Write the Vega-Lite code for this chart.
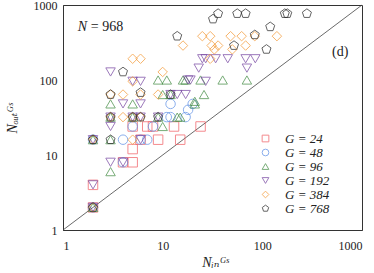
{
  "$schema": "https://vega.github.io/schema/vega-lite/v6.json",
  "width": 299,
  "height": 225,
  "autosize": {"type": "none"},
  "padding": {"left": 63, "top": 5, "right": 12, "bottom": 43},
  "resolve": {"axis": {"x": "independent", "y": "independent"}},
  "config": {
    "font": "Liberation Serif",
    "view": {"stroke": "#333", "strokeWidth": 1},
    "axis": {
      "domainColor": "#333",
      "domainWidth": 1,
      "tickColor": "#333",
      "tickWidth": 1,
      "tickSize": 0,
      "grid": false,
      "labelFont": "Liberation Serif",
      "labelFontSize": 12,
      "labelColor": "#222",
      "titleFont": "Liberation Serif, DejaVu Serif",
      "titleFontSize": 14,
      "titleFontWeight": "normal",
      "titleColor": "#222"
    }
  },
  "datasets": {
    "pts": [
      {"G":24,"x":2,"y":2},{"G":24,"x":2,"y":4},{"G":24,"x":4,"y":8},{"G":24,"x":5,"y":8},{"G":24,"x":5,"y":12},{"G":24,"x":5,"y":24},{"G":24,"x":6,"y":16},{"G":24,"x":7,"y":24},{"G":24,"x":8,"y":24},{"G":24,"x":9,"y":16},{"G":24,"x":13,"y":24},{"G":24,"x":15,"y":16},{"G":24,"x":24,"y":24},
      {"G":48,"x":2,"y":2},{"G":48,"x":2,"y":16},{"G":48,"x":4,"y":16},{"G":48,"x":6,"y":16},{"G":48,"x":7,"y":16},{"G":48,"x":4,"y":8},{"G":48,"x":5,"y":24},{"G":48,"x":8,"y":24},{"G":48,"x":11,"y":32},{"G":48,"x":12,"y":32},{"G":48,"x":12,"y":48},{"G":48,"x":17,"y":32},{"G":48,"x":18,"y":40},{"G":48,"x":20,"y":48},
      {"G":96,"x":2,"y":2},{"G":96,"x":2,"y":16},{"G":96,"x":3,"y":6},{"G":96,"x":3,"y":16},{"G":96,"x":3,"y":32},{"G":96,"x":3,"y":48},{"G":96,"x":5,"y":48},{"G":96,"x":5,"y":32},{"G":96,"x":9,"y":32},{"G":96,"x":10,"y":24},{"G":96,"x":10,"y":64},{"G":96,"x":12,"y":64},{"G":96,"x":9,"y":100},{"G":96,"x":11,"y":100},{"G":96,"x":16,"y":100},{"G":96,"x":17,"y":100},{"G":96,"x":14,"y":32},{"G":96,"x":15,"y":32},{"G":96,"x":21,"y":48},{"G":96,"x":21,"y":52},{"G":96,"x":24,"y":100},{"G":96,"x":26,"y":64},{"G":96,"x":40,"y":100},{"G":96,"x":70,"y":100},
      {"G":192,"x":2,"y":2},{"G":192,"x":2,"y":4},{"G":192,"x":2,"y":16},{"G":192,"x":3,"y":8},{"G":192,"x":3,"y":24},{"G":192,"x":3,"y":32},{"G":192,"x":3,"y":128},{"G":192,"x":4,"y":8},{"G":192,"x":4,"y":48},{"G":192,"x":5,"y":96},{"G":192,"x":6,"y":96},{"G":192,"x":6,"y":48},{"G":192,"x":6,"y":16},{"G":192,"x":6,"y":32},{"G":192,"x":5,"y":32},{"G":192,"x":9,"y":32},{"G":192,"x":12,"y":64},{"G":192,"x":14,"y":64},{"G":192,"x":17,"y":64},{"G":192,"x":18,"y":100},{"G":192,"x":19,"y":100},{"G":192,"x":23,"y":144},{"G":192,"x":25,"y":192},{"G":192,"x":27,"y":192},{"G":192,"x":27,"y":96},{"G":192,"x":34,"y":192},{"G":192,"x":45,"y":192},{"G":192,"x":68,"y":192},{"G":192,"x":70,"y":144},{"G":192,"x":85,"y":192},
      {"G":384,"x":2,"y":2},{"G":384,"x":2,"y":16},{"G":384,"x":3,"y":64},{"G":384,"x":3,"y":32},{"G":384,"x":4,"y":64},{"G":384,"x":4,"y":32},{"G":384,"x":5,"y":16},{"G":384,"x":5,"y":32},{"G":384,"x":5,"y":96},{"G":384,"x":5,"y":192},{"G":384,"x":6,"y":192},{"G":384,"x":6,"y":64},{"G":384,"x":6,"y":32},{"G":384,"x":9,"y":64},{"G":384,"x":10,"y":128},{"G":384,"x":16,"y":288},{"G":384,"x":25,"y":384},{"G":384,"x":30,"y":384},{"G":384,"x":31,"y":288},{"G":384,"x":33,"y":256},{"G":384,"x":36,"y":288},{"G":384,"x":30,"y":192},{"G":384,"x":48,"y":384},{"G":384,"x":50,"y":256},{"G":384,"x":62,"y":384},{"G":384,"x":68,"y":288},{"G":384,"x":84,"y":384},{"G":384,"x":140,"y":384},
      {"G":768,"x":2,"y":2},{"G":768,"x":2,"y":16},{"G":768,"x":3,"y":16},{"G":768,"x":3,"y":32},{"G":768,"x":3,"y":64},{"G":768,"x":4,"y":128},{"G":768,"x":5,"y":32},{"G":768,"x":6,"y":32},{"G":768,"x":6,"y":68},{"G":768,"x":9,"y":32},{"G":768,"x":12,"y":64},{"G":768,"x":14,"y":384},{"G":768,"x":32,"y":650},{"G":768,"x":36,"y":768},{"G":768,"x":52,"y":288},{"G":768,"x":56,"y":768},{"G":768,"x":68,"y":768},{"G":768,"x":84,"y":400},{"G":768,"x":110,"y":256},{"G":768,"x":120,"y":512},{"G":768,"x":168,"y":768},{"G":768,"x":178,"y":768},{"G":768,"x":280,"y":768}
    ]
  },
  "layer": [
    {
      "data": {"values": [{"v": 1}, {"v": 1000}]},
      "mark": {"type": "line", "color": "#444", "strokeWidth": 0.8},
      "encoding": {
        "x": {
          "field": "v", "type": "quantitative",
          "scale": {"type": "log", "domain": [1, 1000], "nice": false},
          "axis": {
            "orient": "top", "title": null, "labels": false, "domain": false,
            "values": [1,2,3,4,5,6,7,8,9,10,20,30,40,50,60,70,80,90,100,200,300,400,500,600,700,800,900,1000],
            "encode": {"ticks": {"update": {"y2": {"signal": "indexof([1,10,100,1000], datum.value) >= 0 ? 6 : 3"}}}}
          }
        },
        "y": {
          "field": "v", "type": "quantitative",
          "scale": {"type": "log", "domain": [1, 1000], "nice": false},
          "axis": {
            "orient": "right", "title": null, "labels": false, "domain": false,
            "values": [1,2,3,4,5,6,7,8,9,10,20,30,40,50,60,70,80,90,100,200,300,400,500,600,700,800,900,1000],
            "encode": {"ticks": {"update": {"x2": {"signal": "indexof([1,10,100,1000], datum.value) >= 0 ? -6 : -3"}}}}
          }
        }
      }
    },
    {
      "data": {"name": "pts"},
      "mark": {"type": "point", "filled": false, "size": 90, "strokeWidth": 1},
      "encoding": {
        "x": {
          "field": "x", "type": "quantitative",
          "axis": {
            "orient": "bottom", "title": "Nᵢₙᴳˢ", "titleFontStyle": "italic",
            "values": [1,2,3,4,5,6,7,8,9,10,20,30,40,50,60,70,80,90,100,200,300,400,500,600,700,800,900,1000],
            "labelExpr": "indexof([1,10,100,1000], datum.value) >= 0 ? format(datum.value, 'd') : ''",
            "labelPadding": 10,
            "titleX": 152, "titleY": 32, "titleBaseline": "middle",
            "encode": {"ticks": {"update": {"y2": {"signal": "indexof([1,10,100,1000], datum.value) >= 0 ? -6 : -3"}}}}
          }
        },
        "y": {
          "field": "y", "type": "quantitative",
          "axis": {
            "orient": "left", "title": "Nₒᵤₜᴳˢ", "titleFontStyle": "italic",
            "values": [1,2,3,4,5,6,7,8,9,10,20,30,40,50,60,70,80,90,100,200,300,400,500,600,700,800,900,1000],
            "labelExpr": "indexof([1,10,100,1000], datum.value) >= 0 ? format(datum.value, 'd') : ''",
            "labelPadding": 6,
            "titleX": -51, "titleY": 113, "titleBaseline": "middle",
            "encode": {"ticks": {"update": {"x2": {"signal": "indexof([1,10,100,1000], datum.value) >= 0 ? 6 : 3"}}}}
          }
        },
        "color": {
          "field": "G", "type": "nominal",
          "scale": {"domain": [24, 48, 96, 192, 384, 768], "range": ["#f05a60", "#5b8ee6", "#3f8a3f", "#7442a0", "#f5962e", "#222222"]},
          "legend": {
            "orient": "none", "legendX": 196, "legendY": 127, "title": null,
            "padding": 0, "symbolSize": 45, "symbolStrokeWidth": 1,
            "labelFont": "Liberation Serif", "labelFontSize": 13, "labelFontStyle": "italic", "labelColor": "#222",
            "labelOffset": 13, "rowPadding": -2.5,
            "labelExpr": "'G = ' + datum.label"
          }
        },
        "shape": {
          "field": "G", "type": "nominal",
          "scale": {"domain": [24, 48, 96, 192, 384, 768], "range": ["square", "circle", "triangle-up", "triangle-down", "diamond", "M0,-1L0.951,-0.309L0.588,0.809L-0.588,0.809L-0.951,-0.309Z"]}
        }
      }
    },
    {
      "data": {"values": [{"label": "N"}]},
      "mark": {"type": "text", "align": "left", "baseline": "middle", "fontSize": 14, "fontStyle": "italic", "font": "Liberation Serif", "color": "#222"},
      "encoding": {
        "x": {"datum": 1.41, "type": "quantitative", "axis": null},
        "y": {"datum": 510, "type": "quantitative", "axis": null},
        "text": {"field": "label"}
      }
    },
    {
      "data": {"values": [{"label": "= 968"}]},
      "mark": {"type": "text", "align": "left", "baseline": "middle", "fontSize": 14, "dx": 13, "font": "Liberation Serif", "color": "#222"},
      "encoding": {
        "x": {"datum": 1.41, "type": "quantitative", "axis": null},
        "y": {"datum": 510, "type": "quantitative", "axis": null},
        "text": {"field": "label"}
      }
    },
    {
      "data": {"values": [{"label": "(d)"}]},
      "mark": {"type": "text", "align": "left", "baseline": "middle", "fontSize": 14, "font": "Liberation Serif", "color": "#222"},
      "encoding": {
        "x": {"datum": 500, "type": "quantitative", "axis": null},
        "y": {"datum": 236, "type": "quantitative", "axis": null},
        "text": {"field": "label"}
      }
    }
  ]
}
